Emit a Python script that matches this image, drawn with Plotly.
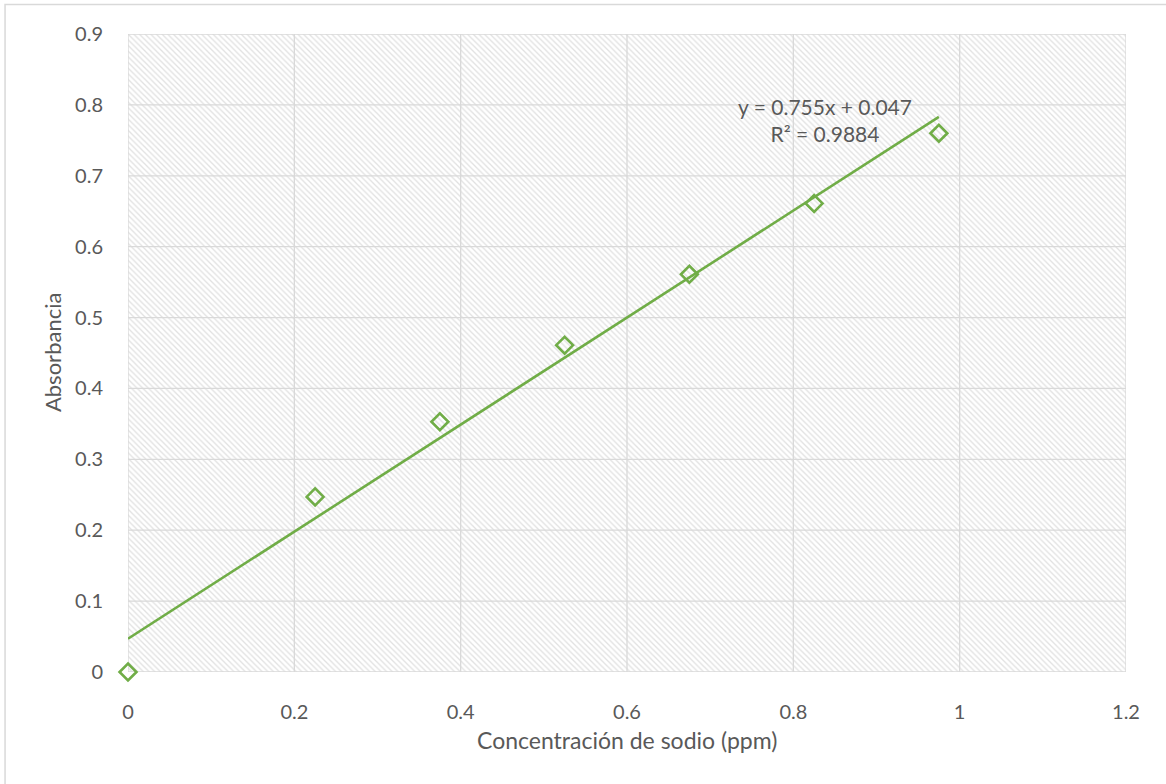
import plotly.graph_objects as go

conc = [0, 0.225, 0.375, 0.525, 0.675, 0.825, 0.975]
absorb = [0, 0.247, 0.353, 0.461, 0.561, 0.661, 0.76]
slope = 0.755
intercept = 0.047
r2 = 0.9884
x_ticks = [0, 0.2, 0.4, 0.6, 0.8, 1, 1.2]
y_ticks = [0, 0.1, 0.2, 0.3, 0.4, 0.5, 0.6, 0.7, 0.8, 0.9]
x_title = "Concentración de sodio (ppm)"
y_title = "Absorbancia"

x_range = [x_ticks[0], x_ticks[-1]]
y_range = [y_ticks[0], y_ticks[-1]]

green = "#70AD47"
grid = "#d9d9d9"
txt = "#595959"
font_family = "Lato, 'Open Sans', sans-serif"

fig = go.Figure()

# hatched plot-area background
fig.add_trace(go.Scatter(
    x=[x_range[0], x_range[1], x_range[1], x_range[0], x_range[0]],
    y=[y_range[0], y_range[0], y_range[1], y_range[1], y_range[0]],
    mode="lines", line=dict(width=0), fill="toself",
    fillcolor="white",
    fillpattern=dict(shape="\\", fgcolor="#c4c4c4", bgcolor="white", size=4, solidity=0.33),
    hoverinfo="skip", showlegend=False,
))

# gridlines drawn over the hatch
gx, gy = [], []
for t in x_ticks:
    gx += [t, t, None]
    gy += [y_range[0], y_range[1], None]
for t in y_ticks:
    gx += [x_range[0], x_range[1], None]
    gy += [t, t, None]
fig.add_trace(go.Scatter(
    x=gx, y=gy, mode="lines", line=dict(color=grid, width=1.3),
    hoverinfo="skip", showlegend=False, cliponaxis=False,
))

# trendline
tx = [0, max(conc)]
ty = [slope * v + intercept for v in tx]
fig.add_trace(go.Scatter(
    x=tx, y=ty, mode="lines",
    line=dict(color=green, width=2.6), showlegend=False, hoverinfo="skip",
))

fig.add_trace(go.Scatter(
    x=conc, y=absorb, mode="markers",
    marker=dict(symbol="diamond-open", size=13, color=green, line=dict(width=2.6, color=green)),
    showlegend=False, cliponaxis=False,
))

fig.add_annotation(
    x=0.838, y=0.7786, xref="x", yref="y",
    text=f"y = {slope}x + {intercept}<br>R² = {r2}",
    showarrow=False, align="center", font=dict(family=font_family, size=21, color=txt),
)

# axis titles
fig.add_annotation(x=0.5, y=-0.1068, xref="paper", yref="paper", text=x_title,
                   showarrow=False, xanchor="center", yanchor="middle",
                   font=dict(family=font_family, size=23, color=txt))
fig.add_annotation(x=-0.0761, y=0.5, xref="paper", yref="paper", text=y_title,
                   showarrow=False, xanchor="center", yanchor="middle", textangle=-90,
                   font=dict(family=font_family, size=22, color=txt))

# outer chart border (top and left edges visible)
fig.add_shape(type="rect", xref="paper", yref="paper",
              x0=-0.1232, x1=1.2, y0=-0.3, y1=1.0463,
              line=dict(color="#d9d9d9", width=1.5), layer="below")

axis_common = dict(
    showgrid=False, zeroline=False, showline=False, automargin=False,
    ticks="outside", tickcolor="rgba(0,0,0,0)",
    tickfont=dict(family=font_family, size=20, color=txt),
)

fig.update_xaxes(range=x_range, tickvals=x_ticks, ticktext=[f"{v:g}" for v in x_ticks],
                 ticklen=22, **axis_common)
fig.update_yaxes(range=y_range, tickvals=y_ticks, ticktext=[f"{v:g}" for v in y_ticks],
                 ticklen=20, **axis_common)

fig.update_layout(
    width=1166, height=784,
    margin=dict(l=128, r=40, t=34, b=112),
    paper_bgcolor="white", plot_bgcolor="white",
    font=dict(family=font_family, color=txt),
)

fig.write_html("out.html", config={"displayModeBar": False},
               post_script="document.body.style.margin='0';document.body.style.overflow='hidden';")
